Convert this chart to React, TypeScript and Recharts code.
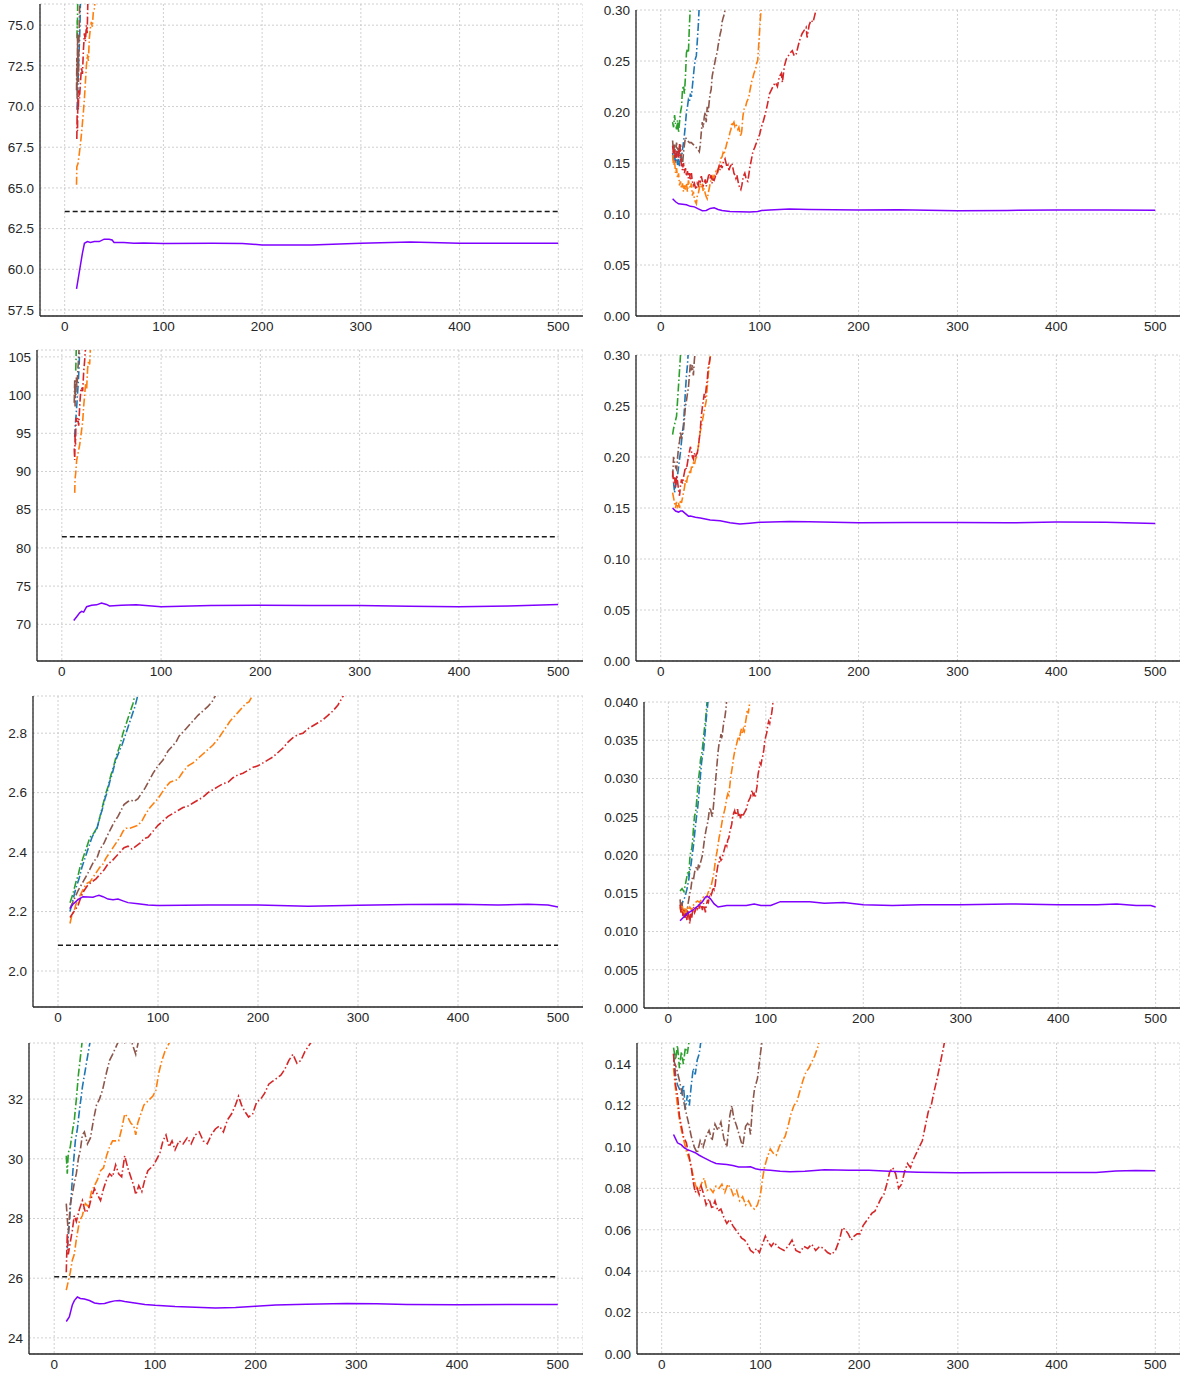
import { LineChart, Line, XAxis, YAxis, CartesianGrid } from "recharts";

type P = [number, number][];

const X_TICKS = [0, 100, 200, 300, 400, 500];

// ---- panel 1 (row 1, left)
const p1Green: P = [[12.5, 74.2], [12.7, 75.3], [12.9, 74.8], [13.2, 76.6]];
const p1Blue: P = [[12.5, 69.8], [13, 70.5], [13.5, 71.5], [14, 72.5], [14.5, 73.3], [15, 74], [15.5, 75], [16, 76.6]];
const p1Brown: P = [[12, 71], [12.3, 73], [12.6, 70.5], [13, 74.5], [13.3, 72], [13.7, 73.5], [14, 71.5], [14.4, 74], [14.8, 75], [15.3, 76.6]];
const p1Orange: P = [[12, 65.2], [12.3, 66.3], [13.5, 66.5], [15, 67.2], [16.5, 68], [18, 69], [19, 69.7], [20, 70.5], [21, 71.5], [22, 72.5], [23, 73.2], [24, 72.8], [25, 74.2], [26, 74.8], [27, 75.2], [28, 74.9], [29, 75.8], [30, 76], [31, 76.6]];
const p1Red: P = [[12.3, 68], [12.6, 69.5], [13, 68.5], [13.3, 70.5], [13.8, 69.8], [14.3, 71], [15, 70.5], [16, 71.5], [17, 72.4], [18, 72], [19, 73.5], [20, 74.5], [21, 74], [22, 75], [22.8, 74.5], [23.5, 76.6]];
const p1Purple: P = [[12, 58.8], [15, 59.9], [18, 61.0], [20, 61.6], [23, 61.7], [26, 61.65], [30, 61.7], [35, 61.7], [40, 61.85], [45, 61.85], [48, 61.8], [50, 61.65], [60, 61.65], [70, 61.6], [80, 61.62], [100, 61.58], [150, 61.6], [180, 61.58], [200, 61.5], [250, 61.5], [300, 61.6], [350, 61.68], [400, 61.6], [450, 61.6], [500, 61.6]];
const p1Ref: P = [[0, 63.55], [500, 63.55]];

// ---- panel 2 (row 1, right)
const p2Green: P = [[12, 0.19], [13, 0.185], [14, 0.197], [15, 0.188], [16, 0.183], [17, 0.192], [18, 0.18], [19, 0.19], [20, 0.2], [21, 0.205], [22, 0.222], [23, 0.226], [24, 0.218], [25, 0.235], [26, 0.258], [27, 0.262], [28, 0.258], [29, 0.285], [30, 0.305]];
const p2Blue: P = [[12, 0.16], [13, 0.152], [14, 0.158], [15, 0.15], [16, 0.162], [17, 0.148], [18, 0.155], [19, 0.147], [20, 0.158], [21, 0.155], [22, 0.163], [23, 0.17], [24, 0.178], [25, 0.188], [26, 0.2], [27, 0.205], [28, 0.212], [29, 0.21], [30, 0.218], [31, 0.215], [32, 0.225], [33, 0.235], [34, 0.245], [35, 0.252], [36, 0.255], [37, 0.27], [38, 0.285], [39, 0.305]];
const p2Brown: P = [[12, 0.172], [13, 0.16], [14, 0.168], [15, 0.155], [16, 0.17], [17, 0.162], [18, 0.165], [19, 0.158], [20, 0.168], [21, 0.152], [22, 0.148], [23, 0.16], [24, 0.168], [25, 0.175], [27, 0.172], [29, 0.17], [31, 0.17], [33, 0.168], [35, 0.166], [37, 0.164], [39, 0.161], [40, 0.168], [41, 0.18], [42, 0.19], [43, 0.185], [44, 0.195], [45, 0.2], [46, 0.19], [47, 0.205], [48, 0.2], [49, 0.21], [50, 0.218], [51, 0.222], [52, 0.235], [53, 0.24], [54, 0.245], [55, 0.25], [56, 0.255], [57, 0.258], [58, 0.265], [59, 0.27], [60, 0.276], [61, 0.28], [62, 0.288], [63, 0.292], [64, 0.295], [65, 0.3], [66, 0.305]];
const p2Orange: P = [[12, 0.158], [13, 0.148], [14, 0.152], [15, 0.14], [16, 0.145], [17, 0.135], [18, 0.14], [19, 0.128], [20, 0.132], [21, 0.125], [22, 0.13], [23, 0.122], [24, 0.128], [25, 0.124], [26, 0.13], [27, 0.122], [28, 0.133], [29, 0.128], [30, 0.125], [31, 0.13], [32, 0.118], [33, 0.122], [34, 0.115], [35, 0.112], [36, 0.11], [37, 0.118], [38, 0.12], [39, 0.125], [40, 0.13], [41, 0.126], [42, 0.128], [43, 0.122], [44, 0.125], [45, 0.12], [46, 0.117], [47, 0.115], [48, 0.12], [49, 0.125], [50, 0.13], [51, 0.134], [52, 0.137], [53, 0.135], [54, 0.138], [55, 0.14], [56, 0.142], [57, 0.14], [58, 0.143], [59, 0.145], [60, 0.15], [61, 0.155], [62, 0.156], [63, 0.16], [64, 0.158], [65, 0.163], [66, 0.166], [67, 0.17], [68, 0.172], [69, 0.175], [70, 0.18], [71, 0.183], [72, 0.19], [73, 0.188], [74, 0.19], [75, 0.186], [76, 0.188], [77, 0.186], [78, 0.183], [79, 0.185], [80, 0.18], [81, 0.176], [82, 0.182], [83, 0.195], [84, 0.202], [85, 0.205], [86, 0.206], [87, 0.21], [88, 0.212], [89, 0.214], [90, 0.22], [91, 0.225], [92, 0.23], [93, 0.233], [94, 0.237], [95, 0.24], [96, 0.242], [97, 0.248], [98, 0.25], [99, 0.265], [100, 0.28], [101, 0.295], [102, 0.305]];
const p2Red: P = [[12, 0.167], [13, 0.158], [14, 0.163], [15, 0.152], [16, 0.156], [17, 0.162], [18, 0.155], [19, 0.169], [20, 0.155], [21, 0.148], [22, 0.143], [23, 0.15], [24, 0.14], [25, 0.145], [26, 0.137], [27, 0.142], [28, 0.135], [29, 0.14], [30, 0.133], [31, 0.14], [32, 0.132], [33, 0.128], [34, 0.13], [35, 0.126], [36, 0.124], [37, 0.13], [38, 0.128], [39, 0.134], [40, 0.132], [41, 0.137], [42, 0.133], [43, 0.128], [44, 0.13], [45, 0.134], [46, 0.127], [47, 0.132], [48, 0.136], [49, 0.14], [50, 0.135], [51, 0.138], [52, 0.13], [53, 0.134], [54, 0.133], [55, 0.136], [56, 0.14], [57, 0.138], [58, 0.144], [59, 0.147], [60, 0.143], [61, 0.148], [62, 0.145], [63, 0.15], [64, 0.152], [65, 0.154], [66, 0.15], [67, 0.146], [68, 0.148], [69, 0.143], [70, 0.146], [71, 0.148], [72, 0.15], [73, 0.145], [74, 0.14], [75, 0.138], [76, 0.135], [77, 0.138], [78, 0.133], [79, 0.128], [80, 0.126], [81, 0.124], [82, 0.128], [83, 0.134], [84, 0.138], [85, 0.14], [86, 0.136], [87, 0.133], [88, 0.132], [89, 0.138], [90, 0.145], [91, 0.15], [92, 0.155], [93, 0.16], [94, 0.163], [95, 0.165], [96, 0.168], [97, 0.17], [98, 0.173], [100, 0.178], [102, 0.186], [104, 0.192], [106, 0.199], [108, 0.208], [110, 0.218], [112, 0.222], [114, 0.226], [116, 0.229], [118, 0.225], [120, 0.235], [122, 0.238], [123, 0.229], [125, 0.245], [127, 0.252], [129, 0.255], [131, 0.258], [133, 0.26], [135, 0.255], [137, 0.257], [139, 0.265], [141, 0.272], [143, 0.277], [145, 0.28], [147, 0.283], [148, 0.273], [150, 0.285], [152, 0.29], [154, 0.288], [156, 0.296], [158, 0.305]];
const p2Purple: P = [[12, 0.115], [15, 0.112], [18, 0.11], [22, 0.1095], [26, 0.109], [30, 0.1075], [34, 0.107], [38, 0.105], [42, 0.1032], [46, 0.1035], [50, 0.1055], [54, 0.106], [58, 0.1045], [62, 0.1035], [70, 0.1025], [80, 0.1023], [90, 0.102], [98, 0.1025], [102, 0.1035], [110, 0.104], [130, 0.1048], [150, 0.1045], [200, 0.1038], [240, 0.1042], [300, 0.1033], [350, 0.1035], [400, 0.104], [450, 0.104], [500, 0.1037]];

// ---- panel 3 (row 2, left)
const p3Green: P = [[14, 103.2], [14.3, 104.5], [14.6, 106.5]];
const p3Blue: P = [[13, 94.5], [13.5, 96], [14.5, 97.5], [15.5, 99.5], [16.5, 101.5], [17.5, 104], [18, 106.5]];
const p3Brown: P = [[12.5, 99], [13, 102], [13.4, 98.5], [13.8, 101.5], [14.2, 100], [14.6, 102.3], [15.2, 101], [16, 103], [17, 105], [17.5, 106.5]];
const p3Orange: P = [[13, 87.2], [13.3, 89], [14, 89.8], [15, 91.5], [16.5, 92.5], [18, 93.5], [19.5, 95], [21, 96.5], [22, 98.5], [23, 100], [24, 101.5], [25, 100.8], [26, 103.5], [27, 104.5], [28, 104], [29, 106.5]];
const p3Red: P = [[12.5, 93], [13, 91.5], [13.4, 95], [13.8, 93.5], [14.3, 97], [15, 96.5], [16, 97], [17, 96], [18, 98.5], [19, 100.5], [20, 101], [21, 100.5], [22, 103], [23, 104.5], [24, 106.5]];
const p3Purple: P = [[12, 70.5], [15, 71.0], [18, 71.5], [20, 71.7], [22, 71.6], [25, 72.3], [30, 72.5], [35, 72.55], [40, 72.8], [45, 72.6], [48, 72.4], [60, 72.5], [75, 72.55], [100, 72.3], [150, 72.45], [200, 72.5], [250, 72.47], [300, 72.45], [350, 72.38], [400, 72.3], [450, 72.4], [500, 72.6]];
const p3Ref: P = [[0, 81.45], [500, 81.45]];

// ---- panel 4 (row 2, right)
const p4Green: P = [[12, 0.222], [13, 0.228], [14, 0.232], [15, 0.236], [16, 0.24], [17, 0.255], [18, 0.27], [19, 0.285], [20, 0.3], [21, 0.31]];
const p4Blue: P = [[13, 0.175], [14, 0.165], [15, 0.172], [16, 0.178], [17, 0.182], [18, 0.19], [19, 0.198], [20, 0.205], [21, 0.215], [22, 0.225], [23, 0.232], [24, 0.248], [25, 0.265], [26, 0.28], [27, 0.29], [28, 0.305]];
const p4Brown: P = [[12, 0.18], [13, 0.2], [14, 0.195], [15, 0.19], [16, 0.188], [17, 0.198], [18, 0.21], [19, 0.215], [20, 0.225], [21, 0.218], [22, 0.222], [23, 0.226], [24, 0.238], [25, 0.25], [26, 0.255], [27, 0.262], [28, 0.268], [29, 0.28], [30, 0.292], [31, 0.285], [32, 0.29], [33, 0.28], [34, 0.295], [35, 0.305]];
const p4Orange: P = [[12, 0.165], [13, 0.16], [14, 0.155], [15, 0.15], [16, 0.156], [17, 0.152], [18, 0.155], [19, 0.15], [20, 0.158], [21, 0.155], [22, 0.16], [23, 0.165], [24, 0.17], [25, 0.177], [26, 0.174], [27, 0.18], [28, 0.182], [29, 0.185], [30, 0.183], [31, 0.19], [32, 0.19], [33, 0.194], [34, 0.192], [35, 0.197], [36, 0.2], [37, 0.205], [38, 0.21], [39, 0.218], [40, 0.225], [41, 0.23], [42, 0.235], [43, 0.24], [44, 0.245], [45, 0.25], [46, 0.255], [47, 0.268], [48, 0.28], [49, 0.29], [50, 0.298], [51, 0.305]];
const p4Red: P = [[12, 0.186], [13, 0.175], [14, 0.18], [15, 0.17], [16, 0.182], [17, 0.176], [18, 0.168], [19, 0.162], [20, 0.172], [21, 0.178], [22, 0.174], [23, 0.18], [24, 0.185], [25, 0.19], [26, 0.188], [27, 0.194], [28, 0.2], [29, 0.205], [30, 0.21], [31, 0.206], [32, 0.2], [33, 0.198], [34, 0.204], [35, 0.2], [36, 0.202], [37, 0.204], [38, 0.21], [39, 0.218], [40, 0.226], [41, 0.24], [42, 0.248], [43, 0.255], [44, 0.262], [45, 0.258], [46, 0.268], [47, 0.275], [48, 0.288], [49, 0.292], [50, 0.298], [51, 0.305]];
const p4Purple: P = [[12, 0.15], [15, 0.147], [18, 0.146], [20, 0.147], [22, 0.147], [25, 0.1445], [28, 0.142], [30, 0.1422], [35, 0.141], [40, 0.1402], [50, 0.1382], [60, 0.1375], [70, 0.1355], [80, 0.1342], [90, 0.135], [100, 0.136], [130, 0.1367], [150, 0.1365], [200, 0.1355], [250, 0.1357], [300, 0.1358], [350, 0.1355], [400, 0.1362], [450, 0.136], [500, 0.1348]];

// ---- panel 5 (row 3, left)
const p5Green: P = [[12, 2.23], [15, 2.26], [18, 2.3], [20, 2.32], [22, 2.35], [25, 2.38], [27, 2.4], [30, 2.43], [32, 2.45], [35, 2.46], [37, 2.47], [40, 2.49], [42, 2.52], [45, 2.56], [48, 2.6], [50, 2.62], [53, 2.66], [55, 2.68], [58, 2.72], [60, 2.74], [62, 2.76], [65, 2.8], [68, 2.83], [70, 2.85], [73, 2.88], [75, 2.9], [77, 2.93]];
const p5Blue: P = [[12, 2.2], [15, 2.24], [18, 2.28], [21, 2.31], [24, 2.35], [27, 2.38], [29, 2.4], [32, 2.43], [34, 2.45], [37, 2.47], [39, 2.48], [42, 2.52], [44, 2.54], [47, 2.58], [49, 2.6], [52, 2.64], [54, 2.66], [57, 2.7], [59, 2.72], [62, 2.745], [64, 2.76], [66, 2.78], [68, 2.8], [71, 2.83], [74, 2.86], [77, 2.89], [80, 2.93]];
const p5Brown: P = [[12, 2.21], [16, 2.24], [20, 2.27], [25, 2.3], [30, 2.33], [33, 2.35], [36, 2.37], [39, 2.38], [42, 2.41], [46, 2.43], [50, 2.46], [53, 2.48], [56, 2.5], [60, 2.52], [63, 2.54], [66, 2.56], [70, 2.57], [73, 2.575], [76, 2.57], [80, 2.58], [84, 2.6], [87, 2.615], [91, 2.64], [95, 2.665], [100, 2.69], [105, 2.71], [110, 2.74], [114, 2.755], [118, 2.77], [121, 2.79], [124, 2.8], [128, 2.815], [132, 2.83], [136, 2.845], [140, 2.86], [145, 2.875], [150, 2.89], [154, 2.905], [158, 2.93]];
const p5Orange: P = [[12, 2.16], [14, 2.19], [16, 2.2], [18, 2.225], [20, 2.24], [23, 2.26], [26, 2.28], [29, 2.295], [32, 2.3], [35, 2.315], [38, 2.33], [42, 2.35], [45, 2.36], [48, 2.38], [52, 2.4], [55, 2.415], [58, 2.43], [62, 2.45], [65, 2.47], [68, 2.48], [72, 2.48], [76, 2.485], [80, 2.49], [84, 2.505], [88, 2.53], [92, 2.55], [96, 2.565], [100, 2.58], [104, 2.6], [108, 2.62], [112, 2.635], [116, 2.64], [120, 2.645], [125, 2.67], [130, 2.69], [135, 2.7], [140, 2.715], [145, 2.73], [150, 2.745], [155, 2.76], [160, 2.78], [164, 2.8], [168, 2.82], [172, 2.84], [176, 2.855], [180, 2.87], [184, 2.885], [188, 2.9], [191, 2.905], [195, 2.93]];
const p5Red: P = [[12, 2.18], [14, 2.19], [16, 2.2], [18, 2.21], [20, 2.22], [23, 2.25], [26, 2.27], [30, 2.29], [34, 2.3], [38, 2.31], [42, 2.325], [46, 2.34], [50, 2.36], [54, 2.37], [58, 2.385], [62, 2.4], [66, 2.415], [70, 2.42], [74, 2.41], [78, 2.42], [82, 2.43], [86, 2.445], [90, 2.45], [95, 2.47], [100, 2.49], [105, 2.505], [110, 2.52], [115, 2.53], [120, 2.54], [125, 2.55], [130, 2.555], [135, 2.565], [140, 2.575], [145, 2.585], [150, 2.6], [155, 2.61], [160, 2.62], [165, 2.63], [170, 2.635], [175, 2.65], [180, 2.66], [185, 2.665], [190, 2.675], [195, 2.685], [200, 2.69], [205, 2.7], [210, 2.71], [215, 2.72], [220, 2.735], [225, 2.75], [230, 2.77], [235, 2.785], [240, 2.795], [245, 2.8], [250, 2.815], [255, 2.825], [260, 2.835], [265, 2.845], [270, 2.86], [275, 2.875], [280, 2.895], [286, 2.93]];
const p5Purple: P = [[12, 2.21], [15, 2.225], [20, 2.24], [25, 2.25], [30, 2.249], [35, 2.248], [38, 2.252], [41, 2.255], [45, 2.25], [50, 2.242], [55, 2.24], [60, 2.242], [65, 2.236], [70, 2.23], [80, 2.226], [90, 2.222], [100, 2.22], [125, 2.221], [150, 2.222], [200, 2.222], [250, 2.218], [300, 2.221], [350, 2.224], [400, 2.225], [440, 2.222], [470, 2.225], [490, 2.222], [500, 2.215]];
const p5Ref: P = [[0, 2.087], [500, 2.087]];

// ---- panel 6 (row 3, right)
const p6Green: P = [[12, 0.0153], [14, 0.0156], [16, 0.0152], [18, 0.0165], [20, 0.0178], [21, 0.0172], [22, 0.0195], [23, 0.0205], [24, 0.0208], [25, 0.022], [26, 0.024], [27, 0.0252], [28, 0.0255], [29, 0.027], [30, 0.0285], [31, 0.03], [32, 0.031], [33, 0.0325], [34, 0.033], [35, 0.034], [36, 0.0352], [37, 0.0365], [38, 0.0375], [39, 0.039], [40, 0.0405]];
const p6Blue: P = [[13, 0.013], [15, 0.014], [17, 0.0145], [19, 0.0155], [21, 0.0168], [22, 0.018], [23, 0.0185], [24, 0.0195], [25, 0.0205], [26, 0.0215], [27, 0.0228], [28, 0.024], [29, 0.0252], [30, 0.026], [31, 0.0275], [32, 0.029], [33, 0.0305], [34, 0.032], [35, 0.033], [36, 0.0335], [37, 0.035], [38, 0.0365], [39, 0.038], [40, 0.0392], [41, 0.0405]];
const p6Brown: P = [[12, 0.0142], [13, 0.0128], [14, 0.0138], [15, 0.0122], [16, 0.013], [17, 0.0118], [18, 0.0128], [19, 0.012], [20, 0.0135], [21, 0.0142], [22, 0.015], [23, 0.0155], [24, 0.0165], [25, 0.0172], [26, 0.017], [27, 0.0178], [28, 0.0182], [29, 0.0185], [30, 0.018], [31, 0.0188], [32, 0.0185], [33, 0.019], [34, 0.0195], [35, 0.02], [36, 0.021], [37, 0.022], [38, 0.0228], [39, 0.0235], [40, 0.024], [41, 0.0248], [42, 0.0258], [43, 0.0262], [44, 0.0255], [45, 0.025], [46, 0.026], [47, 0.0275], [48, 0.029], [49, 0.0305], [50, 0.032], [51, 0.0335], [52, 0.0345], [53, 0.035], [54, 0.0358], [55, 0.0352], [56, 0.0365], [57, 0.0375], [58, 0.038], [59, 0.039], [60, 0.0405]];
const p6Orange: P = [[12, 0.0132], [13, 0.0125], [14, 0.0135], [15, 0.0128], [16, 0.0122], [17, 0.013], [18, 0.0125], [19, 0.0132], [20, 0.0128], [22, 0.0132], [24, 0.0128], [26, 0.0135], [28, 0.0138], [30, 0.014], [32, 0.0138], [34, 0.0142], [36, 0.0145], [38, 0.0143], [40, 0.0148], [42, 0.0155], [44, 0.016], [46, 0.0172], [47, 0.018], [48, 0.019], [49, 0.0198], [50, 0.0205], [52, 0.0222], [54, 0.0235], [56, 0.025], [58, 0.026], [60, 0.0275], [61, 0.028], [62, 0.0278], [63, 0.029], [64, 0.0302], [65, 0.031], [66, 0.0318], [67, 0.0328], [68, 0.0335], [69, 0.034], [70, 0.0345], [71, 0.035], [72, 0.0355], [73, 0.0352], [74, 0.036], [75, 0.0365], [76, 0.0358], [77, 0.0365], [78, 0.0362], [79, 0.0372], [80, 0.038], [81, 0.039], [82, 0.0385], [83, 0.0395], [84, 0.04], [85, 0.041]];
const p6Red: P = [[12, 0.0135], [13, 0.0125], [14, 0.013], [15, 0.012], [16, 0.0128], [17, 0.0118], [18, 0.0125], [19, 0.0115], [20, 0.0128], [21, 0.012], [22, 0.011], [23, 0.0125], [24, 0.0118], [25, 0.0128], [26, 0.0132], [27, 0.0125], [28, 0.0128], [29, 0.0133], [30, 0.013], [31, 0.0135], [32, 0.013], [33, 0.0138], [34, 0.0133], [35, 0.0128], [36, 0.0137], [37, 0.0132], [38, 0.0125], [39, 0.0135], [40, 0.014], [41, 0.0138], [42, 0.0145], [43, 0.015], [44, 0.0148], [45, 0.0152], [46, 0.0158], [47, 0.0155], [48, 0.016], [49, 0.0172], [50, 0.018], [51, 0.0188], [52, 0.019], [53, 0.0198], [54, 0.0193], [55, 0.0195], [56, 0.02], [57, 0.0205], [58, 0.021], [59, 0.0215], [60, 0.0212], [61, 0.022], [62, 0.0222], [63, 0.023], [64, 0.0235], [65, 0.024], [66, 0.025], [67, 0.0255], [68, 0.0258], [69, 0.0252], [70, 0.0255], [71, 0.026], [72, 0.025], [73, 0.0255], [74, 0.0248], [75, 0.0255], [76, 0.025], [78, 0.0255], [80, 0.026], [82, 0.027], [84, 0.0275], [85, 0.028], [86, 0.0285], [87, 0.0278], [88, 0.028], [89, 0.0275], [90, 0.0282], [91, 0.029], [92, 0.0305], [93, 0.0312], [94, 0.032], [95, 0.0318], [96, 0.0325], [97, 0.033], [98, 0.0338], [99, 0.035], [100, 0.0355], [101, 0.036], [102, 0.037], [103, 0.0375], [104, 0.0372], [105, 0.038], [106, 0.0385], [107, 0.0395], [108, 0.0408]];
const p6Purple: P = [[12, 0.0114], [15, 0.0118], [20, 0.0124], [25, 0.0128], [30, 0.0133], [35, 0.0139], [38, 0.0145], [40, 0.0146], [43, 0.0143], [47, 0.0136], [51, 0.0132], [60, 0.0134], [70, 0.0134], [80, 0.0134], [88, 0.0136], [95, 0.0134], [105, 0.0134], [115, 0.0139], [130, 0.0139], [145, 0.0139], [160, 0.0137], [180, 0.0138], [200, 0.0135], [230, 0.0134], [260, 0.0135], [300, 0.0135], [350, 0.0136], [400, 0.0135], [440, 0.0135], [460, 0.0136], [480, 0.0134], [495, 0.0134], [500, 0.0132]];

// ---- panel 7 (row 4, left)
const p7Green: P = [[12, 30.1], [13, 29.5], [14, 30.2], [16, 30.4], [18, 30.9], [20, 31.3], [22, 32.0], [24, 32.8], [26, 33.4], [28, 34.0]];
const p7Blue: P = [[13, 27.0], [15, 27.8], [17, 28.8], [19, 29.8], [21, 30.6], [23, 31.0], [25, 31.6], [28, 32.4], [31, 33.0], [34, 33.6], [36, 34.0]];
const p7Brown: P = [[12, 28.5], [14, 27.5], [16, 28.5], [18, 28.8], [20, 29.2], [22, 29.5], [24, 30.0], [26, 30.3], [28, 30.8], [30, 30.9], [33, 30.5], [36, 30.7], [39, 31.3], [42, 31.8], [45, 32.0], [48, 32.3], [52, 32.9], [55, 33.3], [58, 33.5], [62, 33.8], [66, 34.1], [70, 33.9], [74, 34.2], [78, 33.8], [81, 33.5], [84, 34.0], [87, 34.4]];
const p7Orange: P = [[12, 25.6], [14, 25.9], [16, 26.2], [18, 26.6], [20, 26.8], [22, 27.3], [25, 27.9], [28, 28.1], [31, 28.5], [34, 28.4], [37, 28.9], [40, 29.1], [43, 29.3], [46, 29.6], [49, 29.7], [52, 30.1], [55, 30.4], [58, 30.6], [61, 30.6], [64, 30.6], [67, 31.0], [70, 31.5], [73, 31.4], [76, 31.2], [79, 31.1], [81, 30.8], [83, 31.2], [86, 31.5], [89, 31.8], [92, 31.9], [95, 32.0], [98, 32.1], [101, 32.3], [104, 32.9], [107, 33.3], [110, 33.6], [113, 33.8], [116, 34.0]];
const p7Red: P = [[12, 26.2], [13, 27.5], [14, 26.8], [16, 27.2], [18, 27.6], [20, 28.1], [22, 27.9], [25, 28.3], [28, 28.6], [31, 28.2], [34, 28.3], [37, 28.7], [40, 29.0], [43, 28.8], [46, 28.6], [49, 29.0], [52, 29.3], [55, 29.5], [58, 29.4], [61, 29.8], [64, 29.5], [67, 29.4], [70, 30.1], [73, 29.7], [76, 29.4], [79, 29.1], [81, 28.8], [84, 29.1], [87, 28.9], [90, 29.3], [93, 29.6], [96, 29.7], [99, 29.8], [102, 30.0], [105, 30.2], [108, 30.6], [111, 30.8], [114, 30.4], [117, 30.6], [120, 30.3], [124, 30.6], [128, 30.5], [132, 30.7], [136, 30.5], [140, 30.8], [144, 30.9], [148, 30.6], [152, 30.5], [156, 30.8], [160, 31.0], [164, 31.1], [168, 30.9], [172, 31.3], [176, 31.5], [180, 31.8], [183, 32.1], [186, 31.8], [189, 31.6], [193, 31.4], [197, 31.5], [201, 31.9], [205, 32.0], [209, 32.2], [213, 32.5], [217, 32.6], [221, 32.7], [225, 32.8], [229, 33.0], [233, 33.3], [237, 33.5], [241, 33.2], [245, 33.3], [249, 33.6], [253, 33.8], [257, 34.0]];
const p7Purple: P = [[12, 24.55], [15, 24.7], [18, 25.1], [20, 25.25], [23, 25.37], [26, 25.32], [30, 25.3], [35, 25.25], [40, 25.17], [45, 25.14], [50, 25.15], [55, 25.2], [60, 25.24], [65, 25.25], [70, 25.22], [80, 25.17], [90, 25.12], [100, 25.09], [120, 25.05], [140, 25.03], [160, 25.0], [180, 25.02], [200, 25.06], [220, 25.1], [250, 25.13], [290, 25.15], [320, 25.14], [350, 25.12], [400, 25.11], [450, 25.12], [500, 25.12]];
const p7Ref: P = [[0, 26.05], [500, 26.05]];

// ---- panel 8 (row 4, right)
const p8Green: P = [[12, 0.148], [14, 0.142], [16, 0.149], [18, 0.138], [20, 0.146], [22, 0.14], [24, 0.148], [26, 0.145], [28, 0.152]];
const p8Blue: P = [[12, 0.145], [14, 0.135], [16, 0.13], [18, 0.128], [20, 0.125], [22, 0.13], [24, 0.118], [26, 0.125], [28, 0.12], [30, 0.13], [32, 0.138], [34, 0.135], [36, 0.142], [38, 0.145], [40, 0.152]];
const p8Brown: P = [[12, 0.142], [15, 0.138], [18, 0.132], [21, 0.125], [24, 0.118], [27, 0.112], [30, 0.105], [33, 0.1], [36, 0.097], [39, 0.103], [42, 0.1], [45, 0.105], [48, 0.108], [51, 0.103], [54, 0.111], [57, 0.108], [60, 0.112], [63, 0.104], [66, 0.1], [69, 0.115], [71, 0.12], [73, 0.114], [76, 0.11], [79, 0.105], [82, 0.1], [85, 0.11], [88, 0.112], [90, 0.106], [92, 0.12], [94, 0.128], [97, 0.133], [100, 0.145], [102, 0.152]];
const p8Orange: P = [[12, 0.138], [14, 0.128], [16, 0.12], [18, 0.113], [20, 0.108], [22, 0.104], [25, 0.098], [28, 0.094], [31, 0.088], [34, 0.082], [37, 0.078], [40, 0.082], [43, 0.085], [46, 0.079], [49, 0.08], [52, 0.078], [55, 0.081], [58, 0.08], [61, 0.082], [64, 0.078], [67, 0.082], [70, 0.08], [73, 0.076], [76, 0.079], [79, 0.074], [82, 0.076], [85, 0.072], [88, 0.074], [91, 0.071], [94, 0.07], [97, 0.072], [100, 0.077], [102, 0.084], [104, 0.09], [107, 0.095], [110, 0.099], [113, 0.097], [116, 0.096], [119, 0.1], [122, 0.103], [125, 0.105], [128, 0.11], [131, 0.116], [134, 0.12], [137, 0.122], [140, 0.127], [143, 0.132], [146, 0.136], [149, 0.138], [152, 0.141], [155, 0.144], [158, 0.148], [160, 0.152]];
const p8Red: P = [[12, 0.145], [14, 0.13], [16, 0.125], [18, 0.115], [20, 0.11], [22, 0.105], [25, 0.102], [28, 0.095], [30, 0.09], [32, 0.083], [34, 0.078], [36, 0.08], [38, 0.077], [40, 0.081], [42, 0.078], [45, 0.072], [48, 0.075], [51, 0.07], [54, 0.074], [57, 0.069], [60, 0.07], [63, 0.066], [66, 0.063], [69, 0.065], [72, 0.062], [75, 0.06], [78, 0.058], [81, 0.056], [84, 0.055], [87, 0.053], [90, 0.05], [93, 0.049], [96, 0.051], [99, 0.049], [102, 0.053], [105, 0.057], [108, 0.054], [111, 0.052], [114, 0.054], [117, 0.052], [120, 0.051], [124, 0.05], [128, 0.052], [132, 0.055], [136, 0.05], [140, 0.049], [144, 0.052], [148, 0.051], [152, 0.053], [156, 0.05], [160, 0.052], [164, 0.051], [168, 0.049], [172, 0.048], [176, 0.05], [180, 0.055], [183, 0.061], [186, 0.06], [189, 0.058], [192, 0.055], [195, 0.057], [198, 0.058], [201, 0.058], [204, 0.062], [207, 0.064], [210, 0.066], [213, 0.068], [216, 0.069], [219, 0.072], [222, 0.075], [225, 0.077], [228, 0.082], [231, 0.088], [234, 0.09], [237, 0.087], [240, 0.08], [243, 0.082], [246, 0.088], [249, 0.092], [252, 0.09], [255, 0.094], [258, 0.097], [261, 0.1], [264, 0.103], [267, 0.11], [270, 0.117], [273, 0.12], [276, 0.127], [279, 0.133], [282, 0.14], [285, 0.147], [287, 0.152]];
const p8Purple: P = [[12, 0.106], [14, 0.104], [16, 0.102], [18, 0.1015], [20, 0.101], [23, 0.0995], [26, 0.0987], [30, 0.098], [34, 0.0972], [38, 0.096], [42, 0.095], [46, 0.094], [50, 0.093], [55, 0.092], [60, 0.0918], [66, 0.0915], [72, 0.091], [78, 0.0903], [85, 0.0903], [90, 0.0904], [95, 0.0895], [100, 0.089], [110, 0.0888], [120, 0.0883], [130, 0.088], [145, 0.0883], [165, 0.089], [190, 0.0888], [210, 0.0887], [230, 0.0883], [260, 0.0878], [300, 0.0875], [350, 0.0876], [400, 0.0876], [440, 0.0877], [460, 0.0884], [480, 0.0886], [500, 0.0885]];

const COLORS = {
  green: "#2ca02c",
  blue: "#1f77b4",
  brown: "#8c564b",
  orange: "#ff7f0e",
  red: "#d62728",
  purple: "#7f00ff",
  ref: "#1a1a1a",
};

type Series = { pts: P; color: string; kind: "dashdot" | "solid" | "dashed" };

const walks = (g: P, b: P, br: P, o: P, r: P): Series[] => [
  { pts: g, color: COLORS.green, kind: "dashdot" },
  { pts: b, color: COLORS.blue, kind: "dashdot" },
  { pts: br, color: COLORS.brown, kind: "dashdot" },
  { pts: o, color: COLORS.orange, kind: "dashdot" },
  { pts: r, color: COLORS.red, kind: "dashdot" },
];

const panels = [
  { box: { L: 40, R: 583, T: 4, B: 316 }, y: [57.13, 76.3], ticks: [57.5, 60, 62.5, 65, 67.5, 70, 72.5, 75], dec: 1,
    series: [...walks(p1Green, p1Blue, p1Brown, p1Orange, p1Red), { pts: p1Purple, color: COLORS.purple, kind: "solid" }, { pts: p1Ref, color: COLORS.ref, kind: "dashed" }] },
  { box: { L: 636, R: 1180, T: 10, B: 316 }, y: [0, 0.3], ticks: [0, 0.05, 0.1, 0.15, 0.2, 0.25, 0.3], dec: 2,
    series: [...walks(p2Green, p2Blue, p2Brown, p2Orange, p2Red), { pts: p2Purple, color: COLORS.purple, kind: "solid" }] },
  { box: { L: 37, R: 583, T: 350, B: 661 }, y: [65.2, 105.9], ticks: [70, 75, 80, 85, 90, 95, 100, 105], dec: 0,
    series: [...walks(p3Green, p3Blue, p3Brown, p3Orange, p3Red), { pts: p3Purple, color: COLORS.purple, kind: "solid" }, { pts: p3Ref, color: COLORS.ref, kind: "dashed" }] },
  { box: { L: 636, R: 1180, T: 355, B: 661 }, y: [0, 0.3], ticks: [0, 0.05, 0.1, 0.15, 0.2, 0.25, 0.3], dec: 2,
    series: [...walks(p4Green, p4Blue, p4Brown, p4Orange, p4Red), { pts: p4Purple, color: COLORS.purple, kind: "solid" }] },
  { box: { L: 33, R: 583, T: 696, B: 1007 }, y: [1.879, 2.925], ticks: [2.0, 2.2, 2.4, 2.6, 2.8], dec: 1,
    series: [...walks(p5Green, p5Blue, p5Brown, p5Orange, p5Red), { pts: p5Purple, color: COLORS.purple, kind: "solid" }, { pts: p5Ref, color: COLORS.ref, kind: "dashed" }] },
  { box: { L: 644, R: 1180, T: 702, B: 1008 }, y: [0, 0.04], ticks: [0, 0.005, 0.01, 0.015, 0.02, 0.025, 0.03, 0.035, 0.04], dec: 3,
    series: [...walks(p6Green, p6Blue, p6Brown, p6Orange, p6Red), { pts: p6Purple, color: COLORS.purple, kind: "solid" }] },
  { box: { L: 29, R: 583, T: 1043, B: 1354 }, y: [23.46, 33.88], ticks: [24, 26, 28, 30, 32], dec: 0,
    series: [...walks(p7Green, p7Blue, p7Brown, p7Orange, p7Red), { pts: p7Purple, color: COLORS.purple, kind: "solid" }, { pts: p7Ref, color: COLORS.ref, kind: "dashed" }] },
  { box: { L: 637, R: 1180, T: 1043, B: 1354 }, y: [0, 0.1502], ticks: [0, 0.02, 0.04, 0.06, 0.08, 0.1, 0.12, 0.14], dec: 2,
    series: [...walks(p8Green, p8Blue, p8Brown, p8Orange, p8Red), { pts: p8Purple, color: COLORS.purple, kind: "solid" }] },
];

const YW = 50;
const TOP = 8;
const XH = 28;
const tickStyle = { fontSize: 13.5, fill: "#262626" };

const DASH = { dashdot: "8 2.5 1.5 2.5", solid: undefined, dashed: "5 3" };
const WIDTH = { dashdot: 1.6, solid: 1.5, dashed: 1.5 };

function Panel({ p }: { p: (typeof panels)[number] }) {
  const { L, R, T, B } = p.box;
  return (
    <div style={{ position: "absolute", left: L - YW, top: T - TOP }}>
      <LineChart width={R - L + YW} height={B - T + TOP + XH} margin={{ top: TOP, right: 0, bottom: 0, left: 0 }}>
        <CartesianGrid stroke="#c4c4c4" strokeDasharray="2 2" strokeWidth={0.8} />
        <XAxis
          type="number"
          dataKey="x"
          domain={[-25, 525]}
          ticks={X_TICKS}
          allowDataOverflow
          height={XH}
          tickLine={false}
          tickSize={0}
          tickMargin={5}
          tick={tickStyle}
          axisLine={{ stroke: "#262626", strokeWidth: 1.3 }}
          interval={0}
        />
        <YAxis
          type="number"
          domain={p.y}
          ticks={p.ticks}
          allowDataOverflow
          width={YW}
          tickLine={false}
          tickSize={0}
          tickMargin={6}
          tick={tickStyle}
          axisLine={{ stroke: "#262626", strokeWidth: 1.3 }}
          interval={0}
          tickFormatter={(v: number) => v.toFixed(p.dec)}
        />
        {p.series.map((s, i) => (
          <Line
            key={i}
            data={s.pts.map(([x, y]) => ({ x, y }))}
            dataKey="y"
            type="linear"
            stroke={s.color}
            strokeWidth={WIDTH[s.kind]}
            strokeDasharray={DASH[s.kind]}
            dot={false}
            activeDot={false}
            isAnimationActive={false}
          />
        ))}
      </LineChart>
    </div>
  );
}

export default function App() {
  return (
    <div
      style={{
        position: "absolute",
        left: 0,
        top: 0,
        width: 1181,
        height: 1373,
        background: "#fff",
        fontFamily: "'Liberation Sans', Arial, sans-serif",
      }}
    >
      {panels.map((p, i) => (
        <Panel key={i} p={p} />
      ))}
    </div>
  );
}
